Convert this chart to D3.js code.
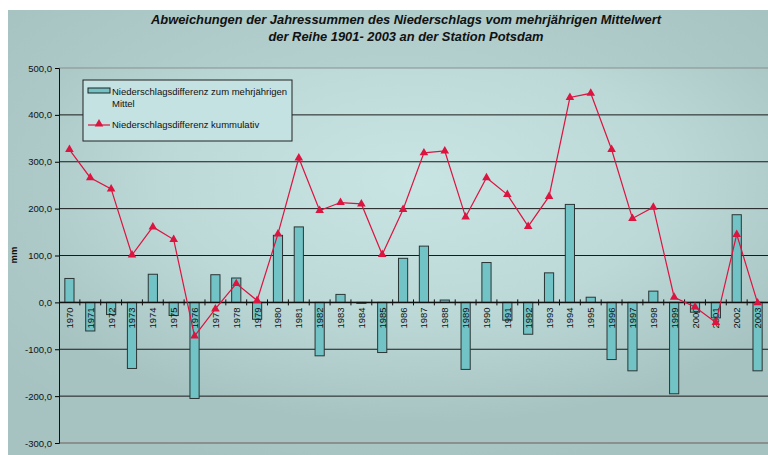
<!DOCTYPE html>
<html>
<head>
<meta charset="utf-8">
<script src="https://cdn.jsdelivr.net/npm/d3@7"></script>
<style>
  body { margin: 0; background: #fff; }
  svg { display: block; font-family: "Liberation Sans", Arial, sans-serif; }
</style>
</head>
<body>
<svg width="768" height="455"></svg>
<script>
// jahre 1970 - 2003
var years = ["1970","1971","1972","1973","1974","1975","1976","1977","1978","1979",
    "1980","1981","1982","1983","1984","1985","1986","1987","1988","1989",
    "1990","1991","1992","1993","1994","1995","1996","1997","1998","1999",
    "2000","2001","2002","2003"];

// abweichung vom mittel (mm)
var differenz = [51, -61, -26, -141, 60, -28, -205, 59, 52, -36,
    143, 161, -114, 17, -2, -107, 94, 120, 5, -143,
    85, -38, -68, 63, 209, 11, -122, -146, 24, -195,
    -21, -33, 187, -146];

// kumulativ (mm)
var kumulativ = [326, 266, 242, 101, 161, 134, -72, -14, 40, 4,
    146, 308, 196, 213, 210, 102, 198, 319, 323, 182,
    266, 230, 162, 226, 437, 446, 326, 179, 203, 11,
    -10, -43, 145, -1];

var yTicks = [500, 400, 300, 200, 100, 0, -100, -200, -300];

var svg = d3.select("svg");
var defs = svg.append("defs");

var g1 = defs.append("radialGradient").attr("id", "bgOuter")
    .attr("cx", "50%").attr("cy", "40%").attr("r", "65%");
g1.append("stop").attr("offset", "0%").attr("stop-color", "#bdd9d8");
g1.append("stop").attr("offset", "100%").attr("stop-color", "#a6c2c1");

var g2 = defs.append("radialGradient").attr("id", "bgPlot")
    .attr("cx", "50%").attr("cy", "30%").attr("r", "65%");
g2.append("stop").attr("offset", "0%").attr("stop-color", "#c8e5e4");
g2.append("stop").attr("offset", "55%").attr("stop-color", "#bcd9d8");
g2.append("stop").attr("offset", "100%").attr("stop-color", "#a6c2c1");

var pLeft = 59, pRight = 768, pTop = 68, pBottom = 443;

svg.append("rect").attr("x", 8).attr("y", 10).attr("width", 760).attr("height", 445)
    .attr("fill", "url(#bgOuter)");
svg.append("rect").attr("x", pLeft).attr("y", pTop).attr("width", pRight - pLeft).attr("height", pBottom - pTop)
    .attr("fill", "url(#bgPlot)");

var x = d3.scaleBand().domain(years).range([pLeft, pRight]).paddingInner(0.56).paddingOuter(0.28);
var y = d3.scaleLinear().domain([-300, 500]).range([pBottom, pTop]);

// titel
var title = svg.append("text").attr("x", 406).attr("text-anchor", "middle")
    .style("font-weight", "bold").style("font-style", "italic").style("font-size", "12.9px")
    .attr("fill", "#111");
title.append("tspan").attr("x", 406).attr("y", 24)
    .text("Abweichungen der Jahressummen des Niederschlags vom mehrjährigen Mittelwert");
title.append("tspan").attr("x", 406).attr("y", 41)
    .text("der Reihe 1901- 2003 an der Station Potsdam");

// gitterlinien
svg.append("g").selectAll("line").data(yTicks).enter().append("line")
    .attr("x1", pLeft).attr("x2", pRight)
    .attr("y1", d => y(d)).attr("y2", d => y(d))
    .attr("stroke", d => (d == 500 || d == -300) ? "#8a8f8f" : "#1a1a1a")
    .attr("stroke-width", d => (d == -300) ? 2 : 1);

// y achse
var yAxis = svg.append("g").attr("transform", "translate(" + pLeft + ",0)")
    .call(d3.axisLeft(y).tickValues(yTicks).tickSize(4).tickPadding(3)
        .tickFormat(d => d3.format(".1f")(d).replace(".", ",").replace("−", "-")));
yAxis.select(".domain").attr("stroke", "#111");
yAxis.selectAll("text").style("font-size", "9.5px").attr("fill", "#111");

svg.append("text").attr("transform", "translate(17,255) rotate(-90)")
    .attr("text-anchor", "middle").style("font-size", "9.5px").style("font-weight", "bold")
    .attr("fill", "#111").text("mm");

// balken
svg.append("g").selectAll("rect").data(differenz).enter().append("rect")
    .attr("x", (d, i) => x(years[i]))
    .attr("y", d => y(Math.max(0, d)))
    .attr("width", x.bandwidth())
    .attr("height", d => Math.abs(y(d) - y(0)))
    .attr("fill", "#72c3c5")
    .attr("stroke", "#2b3535")
    .attr("stroke-width", 1);

// x achse
var step = x.step();
var xg = svg.append("g");
xg.append("line").attr("x1", pLeft).attr("x2", pRight).attr("y1", y(0)).attr("y2", y(0))
    .attr("stroke", "#111").attr("stroke-width", 1.5);
xg.selectAll(".tk").data(years.slice(1)).enter().append("line")
    .attr("x1", d => x(d) - (step - x.bandwidth()) / 2)
    .attr("x2", d => x(d) - (step - x.bandwidth()) / 2)
    .attr("y1", y(0) - 3).attr("y2", y(0) + 3)
    .attr("stroke", "#111");
xg.selectAll(".lbl").data(years).enter().append("text")
    .attr("transform", d => "translate(" + (x(d) + x.bandwidth() / 2 + 3.5) + "," + (y(0) + 5) + ") rotate(-90)")
    .attr("text-anchor", "end").style("font-size", "9.5px").attr("fill", "#111")
    .text(d => d);

// kumulative linie
var line = d3.line().x((d, i) => x(years[i]) + x.bandwidth() / 2).y(d => y(d));
svg.append("path").datum(kumulativ).attr("d", line)
    .attr("fill", "none").attr("stroke", "#dc1440").attr("stroke-width", 1.2);
var tri = d3.symbol().type(d3.symbolTriangle).size(32);
svg.append("g").selectAll("path").data(kumulativ).enter().append("path")
    .attr("d", tri)
    .attr("transform", (d, i) => "translate(" + (x(years[i]) + x.bandwidth() / 2) + "," + y(d) + ")")
    .attr("fill", "#dc1440");

// legende
var lg = svg.append("g").attr("transform", "translate(83,80)");
lg.append("rect").attr("width", 209).attr("height", 61)
    .attr("fill", "#c4e2e1").attr("stroke", "#222");
lg.append("rect").attr("x", 5).attr("y", 8).attr("width", 22).attr("height", 5)
    .attr("fill", "#72c3c5").attr("stroke", "#222");
lg.append("text").attr("x", 29).attr("y", 15).style("font-size", "9.5px").attr("fill", "#111")
    .text("Niederschlagsdifferenz zum mehrjährigen");
lg.append("text").attr("x", 29).attr("y", 27).style("font-size", "9.5px").attr("fill", "#111")
    .text("Mittel");
lg.append("line").attr("x1", 5).attr("x2", 27).attr("y1", 45).attr("y2", 45)
    .attr("stroke", "#dc1440").attr("stroke-width", 1.2);
lg.append("path").attr("d", tri).attr("transform", "translate(16,44)").attr("fill", "#dc1440");
lg.append("text").attr("x", 29).attr("y", 48).style("font-size", "9.5px").attr("fill", "#111")
    .text("Niederschlagsdifferenz kummulativ");
</script>
</body>
</html>
